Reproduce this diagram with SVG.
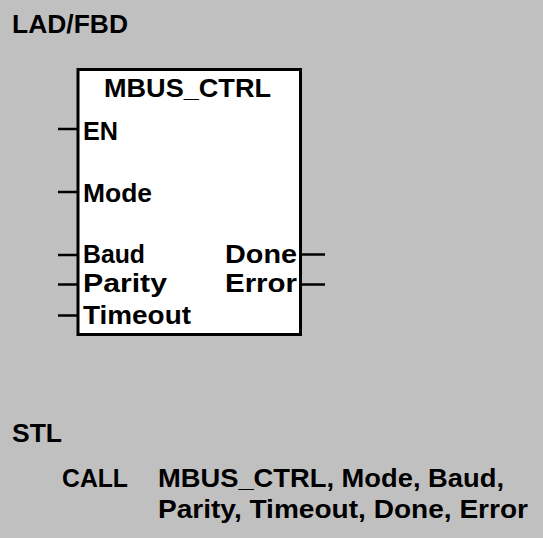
<svg xmlns="http://www.w3.org/2000/svg" width="543" height="538" viewBox="0 0 543 538">
<style>
text{font-family:"Liberation Sans",Arial,sans-serif;font-weight:bold;font-size:26px;fill:#000}
.pin{stroke:#000;stroke-width:2.5;fill:none}
</style>
<rect x="0" y="0" width="543" height="538" fill="#C0C0C0"/>
<text id="lad" x="12" y="32.5" textLength="116" lengthAdjust="spacingAndGlyphs">LAD/FBD</text>
<g id="block">
<rect x="78" y="69.5" width="222.5" height="265" fill="#FFFFFF" stroke="#000" stroke-width="3"/>
<text x="104" y="97" textLength="167" lengthAdjust="spacingAndGlyphs">MBUS_CTRL</text>
<text x="83" y="139.5" textLength="35" lengthAdjust="spacingAndGlyphs">EN</text>
<text x="83" y="201.5" textLength="69" lengthAdjust="spacingAndGlyphs">Mode</text>
<text x="83" y="263" textLength="62" lengthAdjust="spacingAndGlyphs">Baud</text>
<text x="83" y="292" textLength="84" lengthAdjust="spacingAndGlyphs">Parity</text>
<text x="83" y="324" textLength="108" lengthAdjust="spacingAndGlyphs">Timeout</text>
<text x="225" y="263" textLength="72" lengthAdjust="spacingAndGlyphs">Done</text>
<text x="225" y="292" textLength="72" lengthAdjust="spacingAndGlyphs">Error</text>
</g>
<g id="connectors">
<line class="pin" x1="58" y1="129" x2="78" y2="129"/>
<line class="pin" x1="58" y1="192" x2="78" y2="192"/>
<line class="pin" x1="58" y1="255" x2="78" y2="255"/>
<line class="pin" x1="58" y1="284.5" x2="78" y2="284.5"/>
<line class="pin" x1="58" y1="315.5" x2="78" y2="315.5"/>
<line class="pin" x1="300" y1="254.5" x2="325" y2="254.5"/>
<line class="pin" x1="300" y1="284.5" x2="325" y2="284.5"/>
</g>
<text id="stl" x="12" y="442" textLength="50" lengthAdjust="spacingAndGlyphs">STL</text>
<text x="62" y="487" textLength="66" lengthAdjust="spacingAndGlyphs">CALL</text>
<text x="158" y="487" textLength="346" lengthAdjust="spacingAndGlyphs">MBUS_CTRL, Mode, Baud,</text>
<text x="158" y="518" textLength="370" lengthAdjust="spacingAndGlyphs">Parity, Timeout, Done, Error</text>
</svg>
